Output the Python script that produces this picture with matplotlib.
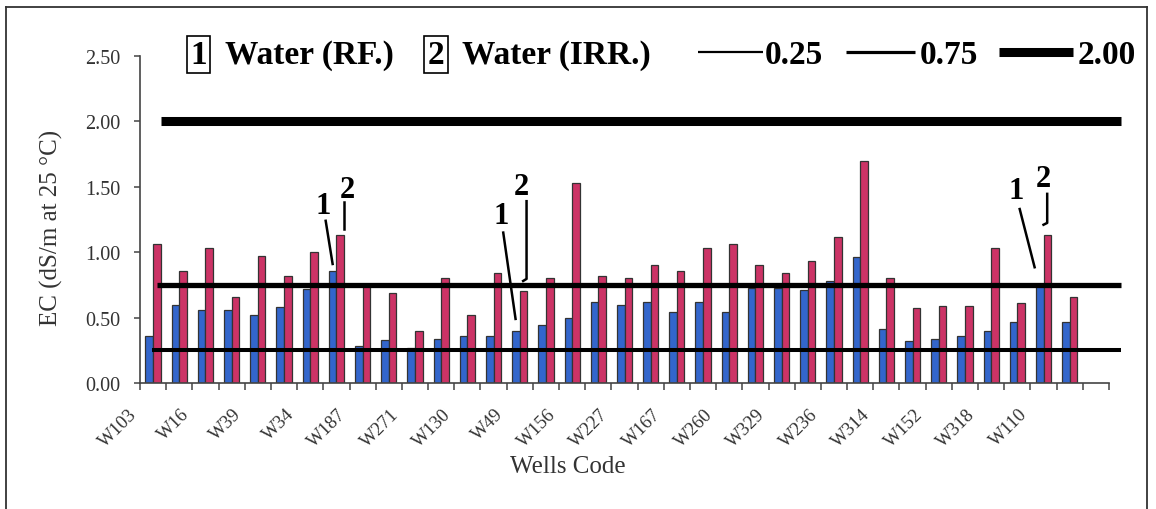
import matplotlib
matplotlib.use("Agg")
import matplotlib.pyplot as plt
import numpy as np
from matplotlib.transforms import ScaledTranslation
from matplotlib.lines import Line2D

# ---------------- data ----------------
tick_labels = ["W103", "W16", "W39", "W34", "W187", "W271", "W130", "W49", "W156",
               "W227", "W167", "W260", "W329", "W236", "W314", "W152", "W318", "W110"]
ec_rf = [0.36, 0.60, 0.56, 0.56, 0.52, 0.58, 0.72, 0.86, 0.28, 0.33, 0.27, 0.34,
         0.36, 0.36, 0.40, 0.44, 0.50, 0.62, 0.60, 0.62, 0.54, 0.62, 0.54, 0.73,
         0.73, 0.71, 0.78, 0.96, 0.41, 0.32, 0.34, 0.36, 0.40, 0.47, 0.74, 0.47]
ec_irr = [1.06, 0.86, 1.03, 0.66, 0.97, 0.82, 1.00, 1.13, 0.74, 0.69, 0.40, 0.80,
          0.52, 0.84, 0.70, 0.80, 1.53, 0.82, 0.80, 0.90, 0.86, 1.03, 1.06, 0.90,
          0.84, 0.93, 1.12, 1.70, 0.80, 0.57, 0.59, 0.59, 1.03, 0.61, 1.13, 0.66]
n_categories = 37
thresholds = [0.25, 0.75, 2.00]
threshold_labels = ["0.25", "0.75", "2.00"]
annotated_groups = [7, 14, 34]

# ---------------- figure ----------------
W, H = 1156, 510
fig = plt.figure(figsize=(W / 100, H / 100), dpi=100)
fig.patch.set_facecolor("white")


def fx(px):
    return px / W


def fy(py):
    return 1 - py / H


SERIF = "Liberation Serif"
BLUE = "#3366CC"
RED = "#CC3366"
EDGE = "#333333"

ax = fig.add_axes([fx(140), fy(384), fx(1109) - fx(140), fy(57) - fy(384)])

x = np.arange(len(ec_rf))
bw = 0.29
ax.bar(x - bw / 2, ec_rf, bw, color=BLUE, edgecolor=EDGE, linewidth=0.9, zorder=2)
ax.bar(x + bw / 2, ec_irr, bw, color=RED, edgecolor=EDGE, linewidth=0.9, zorder=2)

ax.set_xlim(-0.5, n_categories - 0.5)
ax.set_ylim(0, 2.5)

# threshold lines (extend a bit past the axis like the original)
line_widths = [2.9, 3.8, 6.5]
line_starts = [-0.05, 0.14, 0.29]
for t, lw, xs in zip(thresholds, line_widths, line_starts):
    ln = Line2D([xs, n_categories - 0.03], [t, t], color="black", lw=lw,
                solid_capstyle="butt", zorder=4, clip_on=False)
    ax.add_line(ln)

# axes styling
for s in ["top", "right"]:
    ax.spines[s].set_visible(False)
for s in ["left", "bottom"]:
    ax.spines[s].set_color("#444444")
    ax.spines[s].set_linewidth(1.2)

ax.set_xticks(np.arange(-0.5, n_categories, 1.0))
ax.tick_params(axis="x", length=5, width=1.1, color="#444444", labelbottom=False)
ax.set_yticks(np.arange(0, 2.51, 0.5))
ax.set_yticklabels([f"{v:.2f}" for v in np.arange(0, 2.51, 0.5)])
ax.tick_params(axis="y", length=4, width=1.1, color="#444444", pad=10,
               labelsize=14.5, labelcolor="#333333")
for lab in ax.get_yticklabels():
    lab.set_family(SERIF)

# rotated category labels
off = ScaledTranslation(-0.19, -0.28, fig.dpi_scale_trans)
for k, lab in enumerate(tick_labels):
    ax.text(2 * k, 0, lab, transform=ax.get_xaxis_transform() + off,
            rotation=45, ha="right", va="center", rotation_mode="anchor",
            fontsize=13.5, family=SERIF, color="#333333")

# axis titles
fig.text(fx(51), fy(228), "EC (dS/m at 25 \u00b0C)", rotation=90, ha="center",
         va="center", fontsize=18, family=SERIF, color="#333333")
fig.text(fx(568), fy(467), "Wells Code", ha="center", va="center",
         fontsize=18, family=SERIF, color="#333333")

# "1" / "2" annotations
ann_rf = {7: [(-0.41, 0.38), (-0.145, 0.05), (-0.50, 0.50)],
          14: [(-0.63, 0.75), (-0.16, 0.09), (-0.72, 0.88)],
          34: [(-0.91, 0.59), (-0.34, 0.145), (-1.06, 0.73)]}
ann_irr = {7: [(0.30, 0.25), (0.30, 0.048), None, (0.42, 0.35)],
           14: [(0.26, 0.69), (0.26, 0.096), (0.13, 0.08), (0.06, 0.80)],
           34: [(0.14, 0.316), (0.14, 0.094), (0.0, 0.08), (0.01, 0.43)]}
for g in annotated_groups:
    b = ec_rf[g]
    s, e, t = ann_rf[g]
    ax.plot([g + s[0], g + e[0]], [b + s[1], b + e[1]], color="black", lw=1.8,
            zorder=5, clip_on=False)
    ax.text(g + t[0], b + t[1], "1", ha="center", va="center", fontsize=22,
            fontweight="bold", family=SERIF, zorder=5)
    r = ec_irr[g]
    s, e, h, t = ann_irr[g]
    xs_ = [g + s[0], g + e[0]]
    ys_ = [r + s[1], r + e[1]]
    if h is not None:
        xs_.append(g + h[0])
        ys_.append(r + h[1])
    ax.plot(xs_, ys_, color="black", lw=1.8, zorder=5, clip_on=False)
    ax.text(g + t[0], r + t[1], "2", ha="center", va="center", fontsize=22,
            fontweight="bold", family=SERIF, zorder=5)

# ---------------- legend (drawn in figure pixels) ----------------
base = fy(64)
LEG = 24
fig.text(fx(198.5), base, "1", ha="center", va="baseline", fontsize=LEG,
         fontweight="bold", family=SERIF,
         bbox=dict(boxstyle="square,pad=0.1", fc="white", ec="black", lw=1.2))
fig.text(fx(225), base, "Water (RF.)", ha="left", va="baseline", fontsize=LEG,
         fontweight="bold", family=SERIF)
fig.text(fx(436), base, "2", ha="center", va="baseline", fontsize=LEG,
         fontweight="bold", family=SERIF,
         bbox=dict(boxstyle="square,pad=0.1", fc="white", ec="black", lw=1.2))
fig.text(fx(462), base, "Water (IRR.)", ha="left", va="baseline", fontsize=LEG,
         fontweight="bold", family=SERIF)

leg_lines = [(698, 763), (846, 915), (999, 1073)]
leg_text_x = [765, 920, 1078]
leg_lw = [1.6, 2.3, 6.5]
for (x0, x1), tx, lw, lab in zip(leg_lines, leg_text_x, leg_lw, threshold_labels):
    fig.add_artist(Line2D([fx(x0), fx(x1)], [fy(53), fy(53)], color="black",
                          lw=lw, solid_capstyle="butt", transform=fig.transFigure))
    fig.text(fx(tx), base, lab, ha="left", va="baseline", fontsize=LEG,
             fontweight="bold", family=SERIF)

# outer frame
for xs, ys in [([6, 1147], [8, 8]), ([6, 6], [8, 510]), ([1147, 1147], [8, 510])]:
    fig.add_artist(Line2D([fx(v) for v in xs], [fy(v) for v in ys], color="#333333",
                          lw=1.3, transform=fig.transFigure))

fig.savefig("out.png", dpi=100)
